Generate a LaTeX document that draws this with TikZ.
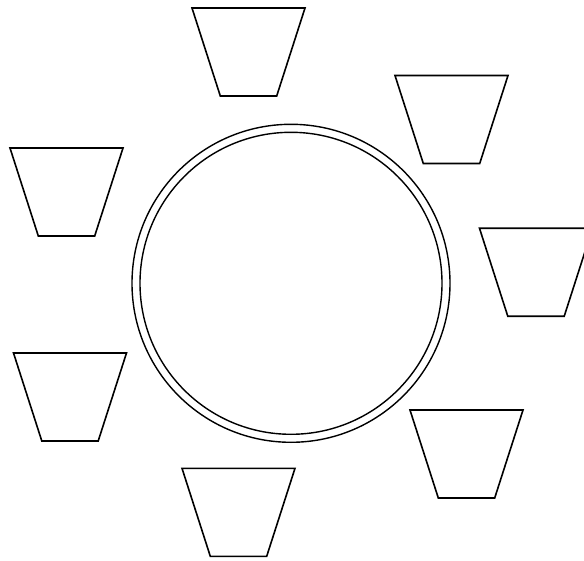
\documentclass[tikz,border=0pt]{standalone}
\begin{document}
\begin{tikzpicture}[x=1pt,y=-1pt,
  cup/.style={draw=black,line width=1.6pt,line join=miter},
  ring/.style={draw=black,line width=1.4pt}]
\useasboundingbox (0,0) rectangle (584,561);
\clip (0,0) rectangle (584,561);
\fill[white] (0,0) rectangle (584,561);
% table
\draw[ring] (291,283.3) circle (159);
\draw[ring] (291,283.3) circle (151);
% chairs (top-left corner given)
\foreach \x/\y in {192/8, 395/75.5, 10/148, 479.5/228.3, 13.5/353, 410/410, 182/468.3}{
  \draw[cup] (\x,\y) -- ++(113,0) -- ++(-28.3,88) -- ++(-56.4,0) -- cycle;
}
\end{tikzpicture}
\end{document}
